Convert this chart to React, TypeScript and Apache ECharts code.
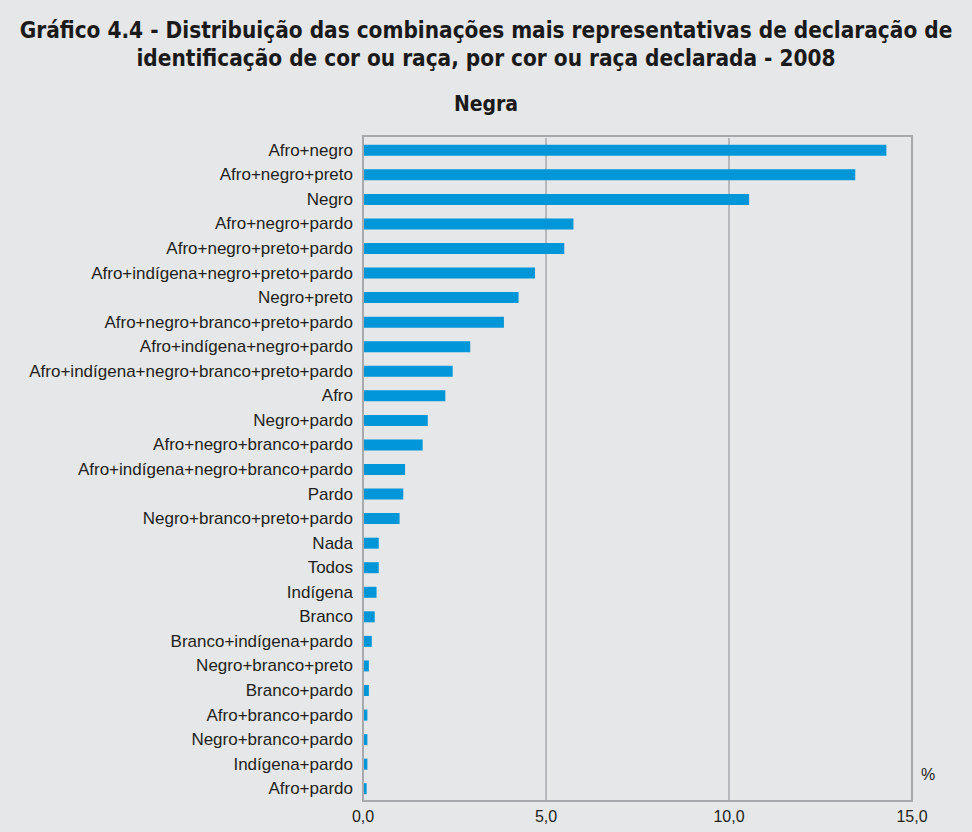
import React, { useEffect, useRef } from "react";
import * as echarts from "echarts";

const categories = [
  "Afro+negro",
  "Afro+negro+preto",
  "Negro",
  "Afro+negro+pardo",
  "Afro+negro+preto+pardo",
  "Afro+indígena+negro+preto+pardo",
  "Negro+preto",
  "Afro+negro+branco+preto+pardo",
  "Afro+indígena+negro+pardo",
  "Afro+indígena+negro+branco+preto+pardo",
  "Afro",
  "Negro+pardo",
  "Afro+negro+branco+pardo",
  "Afro+indígena+negro+branco+pardo",
  "Pardo",
  "Negro+branco+preto+pardo",
  "Nada",
  "Todos",
  "Indígena",
  "Branco",
  "Branco+indígena+pardo",
  "Negro+branco+preto",
  "Branco+pardo",
  "Afro+branco+pardo",
  "Negro+branco+pardo",
  "Indígena+pardo",
  "Afro+pardo",
];

const values = [
  14.3, 13.45, 10.55, 5.75, 5.5, 4.7, 4.25, 3.85, 2.93, 2.45, 2.25, 1.77, 1.63,
  1.15, 1.1, 1.0, 0.43, 0.43, 0.37, 0.32, 0.24, 0.16, 0.16, 0.12, 0.12, 0.12, 0.1,
];

const xTicks = { min: 0, max: 15, interval: 5 };

const title1 =
  "Gráfico 4.4 - Distribuição das combinações mais representativas de declaração de";
const title2 = "identificação de cor ou raça, por cor ou raça declarada - 2008";
const subtitle = "Negra";
const unit = "%";

const TITLE_FONT = '"DejaVu Sans Condensed", "Liberation Sans Narrow", "Liberation Sans", Arial, sans-serif';
const BODY_FONT = '"Liberation Sans", Arial, Helvetica, sans-serif';

export default function App() {
  const ref = useRef<HTMLDivElement>(null);
  useEffect(() => {
    if (!ref.current) return;
    const chart = echarts.init(ref.current, undefined, { renderer: "svg" });
    chart.setOption({
      animation: false,
      backgroundColor: "#e6e7e8",
      title: [
        {
          text: title1 + "\n" + title2,
          left: "center",
          top: 11,
          textStyle: {
            fontFamily: TITLE_FONT,
            fontWeight: "bold",
            fontSize: 22.4,
            lineHeight: 28,
            color: "#1a1a1a",
            align: "center",
          },
        },
        {
          text: subtitle,
          left: "center",
          top: 88,
          textStyle: {
            fontFamily: TITLE_FONT,
            fontWeight: "bold",
            fontSize: 21,
            color: "#1a1a1a",
          },
        },
      ],
      grid: { left: 363, right: 60, top: 138, bottom: 31, containLabel: false },
      xAxis: {
        type: "value",
        min: xTicks.min,
        max: xTicks.max,
        interval: xTicks.interval,
        axisLine: { show: false },
        axisTick: { show: false },
        splitLine: { show: true, lineStyle: { color: "#a7a9ac", width: 1.5 } },
        axisLabel: {
          formatter: (v: number) => v.toFixed(1).replace(".", ","),
          fontFamily: BODY_FONT,
          fontSize: 16,
          color: "#231f20",
          margin: 7,
        },
      },
      yAxis: {
        type: "category",
        inverse: true,
        data: categories,
        axisLine: { show: false },
        axisTick: { show: false },
        axisLabel: {
          fontFamily: BODY_FONT,
          fontSize: 17,
          color: "#231f20",
          margin: 10,
        },
      },
      series: [
        {
          type: "bar",
          data: values,
          barWidth: 11,
          itemStyle: { color: "#0096d8" },
        },
      ],
      graphic: [
        {
          type: "rect",
          shape: { x: 363, y: 136, width: 549, height: 665 },
          style: { fill: "none", stroke: "#a7a9ac", lineWidth: 2 },
          silent: true,
          z: 10,
        },
        {
          type: "text",
          left: 921,
          top: 766,
          style: {
            text: unit,
            fontFamily: BODY_FONT,
            fontSize: 16,
            fill: "#231f20",
          },
        },
      ],
    });
    return () => chart.dispose();
  }, []);
  return (
    <div
      ref={ref}
      style={{ position: "absolute", left: 0, top: 0, width: 972, height: 832 }}
    />
  );
}
